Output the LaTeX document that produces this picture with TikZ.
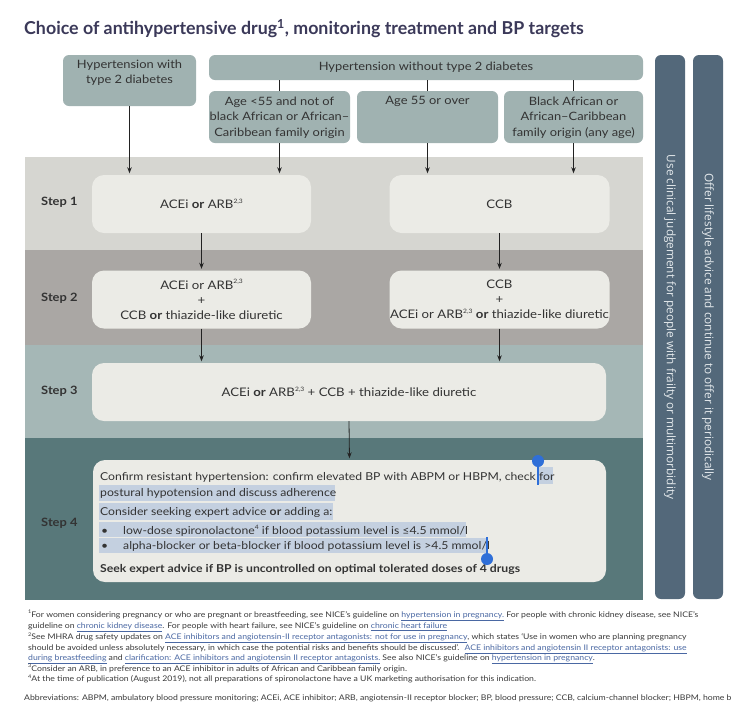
\documentclass[tikz,border=0pt]{standalone}
\usepackage{fontspec}
\setmainfont{Lato}[FakeStretch=1.12]
\newfontfamily\titlefont{Lato}
\newfontfamily\barfont{Open Sans}
\usetikzlibrary{arrows.meta}
\definecolor{titlec}{HTML}{3B3959}
\definecolor{topc}{HTML}{A0B2B1}
\definecolor{band1}{HTML}{D6D6D1}
\definecolor{band2}{HTML}{AAA7A4}
\definecolor{band3}{HTML}{A5B7B6}
\definecolor{band4}{HTML}{58787A}
\definecolor{boxc}{HTML}{EBEBE6}
\definecolor{barc}{HTML}{53687A}
\definecolor{bartext}{HTML}{E4E9EC}
\definecolor{txt}{HTML}{333333}
\definecolor{fnc}{HTML}{3A3A3A}
\definecolor{linkc}{HTML}{4A68A3}
\definecolor{hl}{HTML}{C4D0E0}
\definecolor{handle}{HTML}{2F6FD8}
\definecolor{arrc}{HTML}{222222}
\newcommand\lnk[1]{\textcolor{linkc}{\underline{#1}}}
\newcommand\sups[1]{\raisebox{0.9ex}{\fontsize{6}{6}\selectfont #1}}
\newcommand\fsup[1]{\raisebox{0.8ex}{\fontsize{5}{5}\selectfont #1}}
\begin{document}
\begin{tikzpicture}[x=1pt,y=-1pt,
  topbox/.style={fill=topc, rounded corners=6pt, inner sep=0pt},
  stepbox/.style={fill=boxc, rounded corners=12pt, inner sep=0pt, text=txt, align=center, font=\fontsize{11.8}{15}\selectfont},
  toptext/.style={inner sep=0pt, align=center, text=txt, font=\fontsize{11.5}{15.5}\selectfont},
  steplabel/.style={inner sep=0pt, anchor=base west, text=txt, font=\bfseries\fontsize{11.5}{14}\selectfont},
  sidebar/.style={fill=barc, rounded corners=6pt, inner sep=0pt, rotate=-90, text=bartext, font=\barfont\fontsize{11.8}{13}\selectfont},
  s4text/.style={inner sep=0pt, anchor=base west, text=txt, font=\fontsize{10.9}{13}\selectfont},
  fn/.style={inner sep=0pt, anchor=base west, text=fnc, font=\fontsize{7.75}{9}\selectfont},
  arr/.style={draw=arrc, line width=0.8pt, -{Stealth[length=6pt,width=4.5pt]}, shorten >=1.5pt},
  conn/.style={draw=arrc, line width=0.8pt}
]
\useasboundingbox (0,0) rectangle (750,724);
\fill[white] (0,0) rectangle (750,724);

% title
\node[inner sep=0pt, anchor=base west, text=titlec, font=\titlefont\bfseries\fontsize{17.8}{20}\selectfont] (title) at (24,34.5) {Choice of antihypertensive drug\textsuperscript{1}, monitoring treatment and BP targets};

% bands
\fill[band1] (25,157) rectangle (643,250);
\fill[band2] (25,250) rectangle (643,345);
\fill[band3] (25,345) rectangle (643,438);
\fill[band4] (25,438) rectangle (643,600);

% top boxes
\node[topbox, minimum width=133pt, minimum height=51pt] (d2) at (129.5,80.5) {};
\node[toptext, anchor=north] (d2t) at (129.5,59.5) {Hypertension with\\type 2 diabetes};
\node[topbox, minimum width=434pt, minimum height=25pt, text=txt, font=\fontsize{11.5}{14}\selectfont] (nod) at (426,67.5) {Hypertension without type 2 diabetes};
\node[topbox, minimum width=141pt, minimum height=52pt] (a1) at (279.5,117) {};
\node[topbox, minimum width=141pt, minimum height=52pt] (a2) at (427.5,117) {};
\node[topbox, minimum width=139pt, minimum height=52pt] (a3) at (573.5,117) {};
\node[toptext, anchor=north] (a1t) at (279.5,96.5) {Age <55 and not of\\black African or African–\\Caribbean family origin};
\node[toptext, anchor=north] (a2t) at (427.5,96.5) {Age 55 or over};
\node[toptext, anchor=north] (a3t) at (573.5,96.5) {Black African or\\African–Caribbean\\family origin (any age)};

% side bars
\node[sidebar, minimum width=544pt, minimum height=30pt] (b1) at (670,327) {Use clinical judgement for people with frailty or multimorbidity};
\node[sidebar, minimum width=544pt, minimum height=30pt] (b2) at (708,327) {Offer lifestyle advice and continue to offer it periodically};

% step labels
\node[steplabel] (l1) at (41,205) {Step 1};
\node[steplabel] (l2) at (41,301) {Step 2};
\node[steplabel] (l3) at (41,394) {Step 3};
\node[steplabel] (l4) at (41,526) {Step 4};

% step boxes
\node[stepbox, minimum width=219pt, minimum height=58pt] (s1l) at (201.5,204) {ACEi \textbf{or} ARB\sups{2,3}};
\node[stepbox, minimum width=220pt, minimum height=58pt] (s1r) at (499.5,204) {CCB};
\node[stepbox, minimum width=219pt, minimum height=58pt] (s2l) at (201.5,299.5) {ACEi or ARB\sups{2,3}\\+\\CCB \textbf{or} thiazide-like diuretic};
\node[stepbox, minimum width=220pt, minimum height=58pt] (s2r) at (499.5,299.5) {CCB\\+\\ACEi or ARB\sups{2,3} \textbf{or} thiazide-like diuretic};
\node[stepbox, minimum width=514pt, minimum height=58pt] (s3) at (349,392) {ACEi \textbf{or} ARB\sups{2,3} + CCB + thiazide-like diuretic};
\node[stepbox, minimum width=513pt, minimum height=122pt] (s4) at (349.5,521) {};

% connectors
\draw[conn] (a1.north |- nod.south) -- (a1.north);
\draw[conn] (a2.north |- nod.south) -- (a2.north);
\draw[conn] (a3.north |- nod.south) -- (a3.north);
\draw[arr] (d2.south) -- (d2.south |- s1l.north);
\draw[arr] (a1.south) -- (a1.south |- s1l.north);
\draw[arr] (a2.south) -- (a2.south |- s1r.north);
\draw[arr] (a3.south) -- (a3.south |- s1r.north);
\draw[arr] (s1l.south) -- (s2l.north);
\draw[arr] (s1r.south) -- (s2r.north);
\draw[arr] (s2l.south) -- (s2l.south |- s3.north);
\draw[arr] (s2r.south) -- (s2r.south |- s3.north);
\draw[arr] (s3.south) -- (s4.north);

% selection highlight
\fill[hl] (538,467) rectangle (553,484);
\fill[hl] (99,485) rectangle (335,501);
\fill[hl] (99,503) rectangle (333,520);
\fill[hl] (99,522) rectangle (466,537);
\fill[hl] (99,538) rectangle (488,553);

% step 4 text
\node[s4text] (t1) at (100,480) {Confirm resistant hypertension: confirm elevated BP with ABPM or HBPM, check for};
\node[s4text] (t2) at (100,496) {postural hypotension and discuss adherence};
\node[s4text] (t3) at (100,515) {Consider seeking expert advice \textbf{or} adding a:};
\node[s4text] (t4b) at (101,534) {•};
\node[s4text] (t4) at (123,534) {low-dose spironolactone\sups{4} if blood potassium level is ≤4.5 mmol/l};
\node[s4text] (t5b) at (101,549.5) {•};
\node[s4text] (t5) at (123,549.5) {alpha-blocker or beta-blocker if blood potassium level is >4.5 mmol/l};
\node[s4text, font=\bfseries\fontsize{10.9}{13}\selectfont] (t6) at (100,572) {Seek expert advice if BP is uncontrolled on optimal tolerated doses of 4 drugs};

% selection handles
\draw[handle, line width=2.2pt] (538,461) -- (538,485);
\fill[handle] (538,461) circle[radius=6pt];
\draw[handle, line width=2.2pt] (487,537) -- (487,559);
\fill[handle] (487,559) circle[radius=6pt];

% footnotes
\begin{scope}
\clip (0,0) rectangle (750,724);
\node[fn] (f1) at (28,617) {\fsup{1}For women considering pregnancy or who are pregnant or breastfeeding, see NICE’s guideline on \lnk{hypertension in pregnancy.} For people with chronic kidney disease, see NICE’s};
\node[fn] (f2) at (28,628.5) {guideline on \lnk{chronic kidney disease}. For people with heart failure, see NICE’s guideline on \lnk{chronic heart failure}};
\node[fn] (f3) at (28,639.5) {\fsup{2}See MHRA drug safety updates on \lnk{ACE inhibitors and angiotensin-II receptor antagonists: not for use in pregnancy}, which states ‘Use in women who are planning pregnancy};
\node[fn] (f4) at (28,650) {should be avoided unless absolutely necessary, in which case the potential risks and benefits should be discussed’. \ \lnk{ACE inhibitors and angiotensin II receptor antagonists: use}};
\node[fn] (f5) at (28,660.5) {\lnk{during breastfeeding} and \lnk{clarification: ACE inhibitors and angiotensin II receptor antagonists.} See also NICE’s guideline on \lnk{hypertension in pregnancy}.};
\node[fn] (f6) at (28,671) {\fsup{3}Consider an ARB, in preference to an ACE inhibitor in adults of African and Caribbean family origin.};
\node[fn] (f7) at (28,681.5) {\fsup{4}At the time of publication (August 2019), not all preparations of spironolactone have a UK marketing authorisation for this indication.};
\node[fn] (ab) at (24,700) {Abbreviations: ABPM, ambulatory blood pressure monitoring; ACEi, ACE inhibitor; ARB, angiotensin-II receptor blocker; BP, blood pressure; CCB, calcium-channel blocker; HBPM, home b};
\end{scope}
\end{tikzpicture}
\end{document}
